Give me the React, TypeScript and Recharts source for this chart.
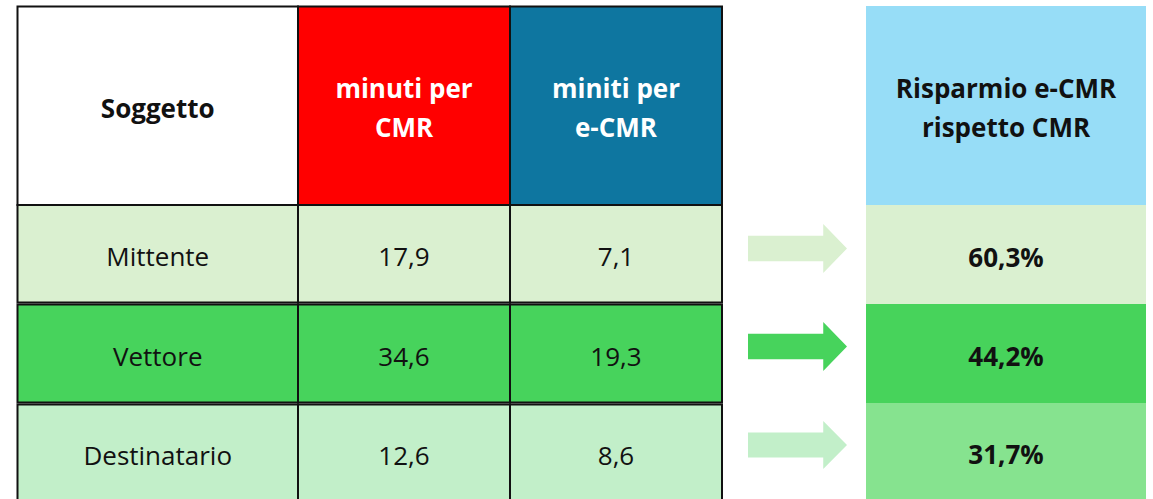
import { ComposedChart, XAxis, YAxis, ReferenceArea } from "recharts";

// table content
const ROW_LABELS = ["Mittente", "Vettore", "Destinatario"];
const CMR_MINUTES = [17.9, 34.6, 12.6];
const ECMR_MINUTES = [7.1, 19.3, 8.6];
const SAVINGS_PCT = [60.3, 44.2, 31.7];
const HEADERS = [["Soggetto"], ["minuti per", "CMR"], ["miniti per", "e-CMR"]];
const SAVINGS_HEADER = ["Risparmio e-CMR", "rispetto CMR"];

// layout (page pixels, mapped through the hidden axes)
const W = 1153;
const H = 499;
const COL_X = [17.5, 298, 510, 722];
const SAV_X = [866, 1146];
const ARROW_X = [748, 847];
const HEADER_Y = [6.5, 205];
const ROW_Y = [
  [205, 302.5],
  [304.5, 402.5],
  [404.5, 501],
];
const SAV_Y = [
  [205, 304],
  [304, 403],
  [403, 501],
];
const ARROW_Y = [
  [224, 273],
  [322, 371],
  [421, 469],
];

const HEADER_COLORS = ["#FFFFFF", "#FF0000", "#0E76A0"];
const HEADER_TEXT = ["#111111", "#FFFFFF", "#FFFFFF"];
const SAV_HEADER_COLOR = "#97DDF7";
const ROW_COLORS = ["#DAF0D0", "#47D35C", "#C2EFC9"];
const SAV_COLORS = ["#DAF0D0", "#47D35B", "#86E38F"];

const FONT = "'Open Sans', sans-serif";

const fmt = (v: number) => v.toFixed(1).replace(".", ",");

function cellText(lines: string[], color: string, bold: boolean, size = 26, gap = 39) {
  return (props: any) => {
    const vb = props.viewBox || {};
    const cx = vb.x + vb.width / 2;
    const cy = vb.y + vb.height / 2;
    const first = cy + 12 - ((lines.length - 1) * gap) / 2;
    return (
      <text
        x={cx}
        textAnchor="middle"
        fill={color}
        fontFamily={FONT}
        fontSize={size}
        fontWeight={bold ? 700 : 400}
      >
        {lines.map((l, i) => (
          <tspan key={i} x={cx} y={first + i * gap}>
            {l}
          </tspan>
        ))}
      </text>
    );
  };
}

function Arrow(props: any) {
  const { x, y, width, height, fill } = props;
  const shaftTop = y + height * 0.24;
  const shaftBot = y + height * 0.76;
  const headX = x + width * 0.76;
  const pts = [
    [x, shaftTop],
    [headX, shaftTop],
    [headX, y],
    [x + width, y + height / 2],
    [headX, y + height],
    [headX, shaftBot],
    [x, shaftBot],
  ]
    .map((p) => p.join(","))
    .join(" ");
  return <polygon points={pts} fill={fill} />;
}

export default function App() {
  return (
    <div style={{ position: "absolute", left: 0, top: 0, background: "#fff" }}>
      <ComposedChart
        width={W}
        height={H}
        data={[]}
        margin={{ top: 0, right: 0, bottom: 0, left: 0 }}
      >
        <XAxis type="number" dataKey="x" domain={[0, W]} hide allowDataOverflow />
        <YAxis type="number" dataKey="y" domain={[0, H]} reversed hide allowDataOverflow />

        {/* header row */}
        {HEADERS.map((h, i) => (
          <ReferenceArea
            key={"h" + i}
            x1={COL_X[i]}
            x2={COL_X[i + 1]}
            y1={HEADER_Y[0]}
            y2={HEADER_Y[1]}
            fill={HEADER_COLORS[i]}
            fillOpacity={1}
            stroke="#111"
            strokeWidth={2}
            ifOverflow="visible"
            label={cellText(h, HEADER_TEXT[i], true)}
          />
        ))}

        {/* data rows */}
        {ROW_LABELS.map((name, r) =>
          [name, fmt(CMR_MINUTES[r]), fmt(ECMR_MINUTES[r])].map((txt, c) => (
            <ReferenceArea
              key={"c" + r + "-" + c}
              x1={COL_X[c]}
              x2={COL_X[c + 1]}
              y1={ROW_Y[r][0]}
              y2={ROW_Y[r][1]}
              fill={ROW_COLORS[r]}
              fillOpacity={1}
              stroke="#111"
              strokeWidth={2}
              ifOverflow="visible"
              label={cellText([txt], "#111111", false)}
            />
          ))
        )}

        {/* arrows */}
        {ROW_LABELS.map((_, r) => (
          <ReferenceArea
            key={"a" + r}
            x1={ARROW_X[0]}
            x2={ARROW_X[1]}
            y1={ARROW_Y[r][0]}
            y2={ARROW_Y[r][1]}
            fill={ROW_COLORS[r]}
            fillOpacity={1}
            ifOverflow="visible"
            shape={<Arrow />}
          />
        ))}

        {/* savings column */}
        <ReferenceArea
          x1={SAV_X[0]}
          x2={SAV_X[1]}
          y1={HEADER_Y[0] - 0.5}
          y2={HEADER_Y[1]}
          fill={SAV_HEADER_COLOR}
          fillOpacity={1}
          ifOverflow="visible"
          label={cellText(SAVINGS_HEADER, "#111111", true)}
        />
        {SAVINGS_PCT.map((v, r) => (
          <ReferenceArea
            key={"s" + r}
            x1={SAV_X[0]}
            x2={SAV_X[1]}
            y1={SAV_Y[r][0]}
            y2={SAV_Y[r][1]}
            fill={SAV_COLORS[r]}
            fillOpacity={1}
            ifOverflow="visible"
            label={cellText([fmt(v) + "%"], "#111111", true)}
          />
        ))}
      </ComposedChart>
    </div>
  );
}
